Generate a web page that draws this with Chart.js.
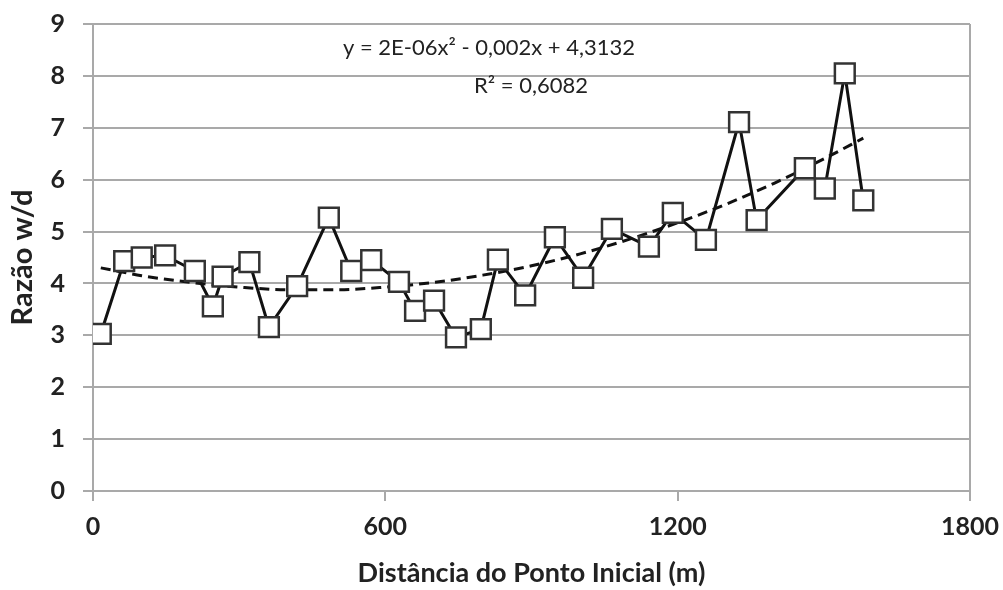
<!DOCTYPE html>
<html>
<head>
<meta charset="utf-8">
<script src="https://cdn.jsdelivr.net/npm/chart.js@4/dist/chart.umd.min.js"></script>
<style>
html,body{margin:0;padding:0;background:#fff;overflow:hidden;}
#wrap{position:relative;width:1003px;height:590px;}
canvas{display:block;}
</style>
</head>
<body>
<div id="wrap"><canvas id="c" width="1003" height="590"></canvas></div>
<script>
const distances = [16, 64, 100, 148, 209, 246, 266, 321, 361, 419, 484, 530, 571, 628, 661, 700, 745, 796, 831, 887, 948, 1006, 1065, 1141, 1190, 1258, 1326, 1362, 1461, 1502, 1543, 1581];
const ratios    = [3.03, 4.43, 4.50, 4.54, 4.24, 3.56, 4.13, 4.41, 3.16, 3.95, 5.27, 4.24, 4.45, 4.03, 3.47, 3.67, 2.96, 3.12, 4.46, 3.77, 4.89, 4.11, 5.05, 4.71, 5.36, 4.84, 7.11, 5.22, 6.22, 5.83, 8.05, 5.60];
// Polynomial trendline
const trendX = [16, 100, 200, 300, 400, 500, 600, 700, 800, 900, 1000, 1100, 1200, 1300, 1400, 1500, 1581];
const trendY = [4.30, 4.15, 4.02, 3.93, 3.88, 3.88, 3.93, 4.02, 4.16, 4.34, 4.57, 4.85, 5.17, 5.53, 5.94, 6.40, 6.80];
const xTicks = [0, 600, 1200, 1800];
const yTicks = [0, 1, 2, 3, 4, 5, 6, 7, 8, 9];
const equationText = "y = 2E-06x\u00B2 - 0,002x + 4,3132";
const r2Text = "R\u00B2 = 0,6082";
const xTitle = "Dist\u00E2ncia do Ponto Inicial (m)";
const yTitle = "Raz\u00E3o w/d";

const FONT = "Lato, 'Open Sans', sans-serif";
const GRID = '#a9a9a9';

const mainData = distances.map((d, i) => ({x: d, y: ratios[i]}));
const trendData = trendX.map((d, i) => ({x: d, y: trendY[i]}));

const annot = {
  id: 'annot',
  afterDatasetsDraw(chart) {
    const ctx = chart.ctx;
    ctx.save();
    ctx.fillStyle = '#222';
    ctx.font = "22px " + FONT;
    ctx.textAlign = 'center';
    ctx.textBaseline = 'middle';
    ctx.fillText(equationText, 489, 48);
    ctx.fillText(r2Text, 531, 86);
    ctx.restore();
  }
};

new Chart(document.getElementById('c'), {
  type: 'scatter',
  data: {
    datasets: [
      {
        data: trendData,
        showLine: true,
        borderColor: '#111',
        borderWidth: 3,
        borderDash: [10, 6],
        pointRadius: 0,
        cubicInterpolationMode: 'monotone',
        order: 1
      },
      {
        data: mainData,
        showLine: true,
        borderColor: '#111',
        borderWidth: 3,
        pointStyle: 'rect',
        pointRadius: 14,
        pointBorderWidth: 2.5,
        pointBorderColor: '#333',
        pointBackgroundColor: '#fff',
        order: 0
      }
    ]
  },
  options: {
    responsive: false,
    animation: false,
    events: [],
    layout: {padding: {top: 24, right: 33, left: 0, bottom: 0}},
    plugins: {legend: {display: false}, tooltip: {enabled: false}},
    scales: {
      x: {
        type: 'linear',
        min: 0, max: 1800,
        afterBuildTicks(s) { s.ticks = xTicks.map(v => ({value: v})); },
        afterFit(s) { s.height = 99; s.paddingLeft = 0; s.paddingRight = 0; },
        grid: {
          color: c => (c.tick && c.tick.value === 1800) ? GRID : 'rgba(0,0,0,0)',
          tickColor: GRID,
          lineWidth: 2,
          tickLength: 10,
          drawOnChartArea: true
        },
        border: {display: false},
        ticks: {color: '#222', font: {family: FONT, size: 25, weight: 'bold'}, padding: 11, maxRotation: 0, callback: v => String(v)},
        title: {display: true, text: xTitle, color: '#222', font: {family: FONT, size: 27, weight: 'bold', lineHeight: 1.15}, padding: {top: 0, bottom: 1}}
      },
      y: {
        min: 0, max: 9,
        afterBuildTicks(s) { s.ticks = yTicks.map(v => ({value: v})); },
        afterFit(s) { s.width = 93; s.paddingTop = 0; s.paddingBottom = 0; },
        grid: {color: GRID, tickColor: GRID, lineWidth: 2, tickLength: 10},
        border: {display: true, color: GRID, width: 2},
        ticks: {color: '#222', font: {family: FONT, size: 25, weight: 'bold'}, padding: 18, callback: v => String(v)},
        title: {display: true, text: yTitle, color: '#222', font: {family: FONT, size: 29, weight: 'bold'}, padding: {top: 5, bottom: 0}}
      }
    }
  },
  plugins: [annot]
});
</script>
</body>
</html>
